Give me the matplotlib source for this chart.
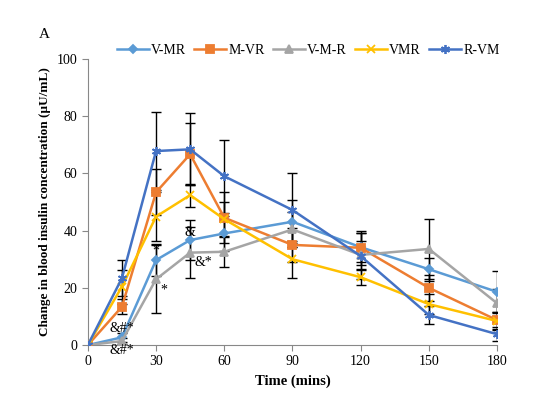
import matplotlib.pyplot as plt

plt.rcParams['font.family'] = ['Liberation Serif', 'DejaVu Serif']

time = [0, 15, 30, 45, 60, 90, 120, 150, 180]

v_mr = [0, 2.7, 29.7, 36.7, 39.0, 43.1, 34.2, 26.5, 18.6]
m_vr = [0, 13.4, 53.4, 66.7, 44.5, 35.0, 34.0, 20.0, 8.7]
v_m_r = [0, 1.4, 23.0, 32.3, 32.6, 40.4, 31.5, 33.6, 14.6]
vmr = [0, 20.4, 44.9, 52.4, 44.0, 30.0, 23.7, 14.3, 8.4]
r_vm = [0, 23.4, 67.8, 68.4, 59.0, 47.2, 31.1, 10.5, 3.8]

v_mr_err = [0, 1.5, 5.5, 7.0, 6.0, 7.5, 5.0, 4.0, 7.4]
m_vr_err = [0, 2.6, 8.0, 10.8, 9.0, 6.0, 6.0, 4.5, 3.0]
v_m_r_err = [0, 1.2, 11.8, 9.0, 5.2, 6.0, 5.0, 10.4, 5.0]
vmr_err = [0, 6.0, 8.5, 4.0, 6.0, 6.5, 2.7, 3.5, 3.0]
r_vm_err = [0, 6.3, 13.6, 12.6, 12.7, 13.0, 8.0, 3.2, 2.4]

names = ['V-MR', 'M-VR', 'V-M-R', 'VMR', 'R-VM']
series = [v_mr, m_vr, v_m_r, vmr, r_vm]
errors = [v_mr_err, m_vr_err, v_m_r_err, vmr_err, r_vm_err]
colors = ['#5B9BD5', '#ED7D31', '#A5A5A5', '#FFC000', '#4472C4']
markers = ['D', 's', '^', 'x', (6, 2, 0)]
msizes = [4, 6, 5.5, 5.5, 6.5]

fig = plt.figure(figsize=(5.56, 3.98), dpi=100)
ax = fig.add_axes([0.158, 0.133, 0.736, 0.719])

for y, e in zip(series, errors):
    ax.errorbar(time, y, yerr=e, fmt='none', ecolor='black', elinewidth=1,
                capsize=3.5, capthick=1, zorder=2)
for name, y, c, m, s in zip(names, series, colors, markers, msizes):
    ax.plot(time, y, color=c, lw=1.8, marker=m, ms=s, mew=1.3, label=name, zorder=3)

ax.text(15, 3.5, '&#*', fontsize=10, ha='center', va='bottom')
ax.text(15, -4, '&#*', fontsize=10, ha='center', va='bottom')
ax.text(30, 30.5, '*', fontsize=10, ha='center', va='bottom')
ax.text(32, 17, '*', fontsize=10, ha='left', va='bottom')
ax.text(45, 37, '&', fontsize=10, ha='center', va='bottom')
ax.text(47, 26.5, '&*', fontsize=10, ha='left', va='bottom')

ax.set_xlim(0, 180)
ax.set_ylim(0, 100)
ax.set_xticks([0, 30, 60, 90, 120, 150, 180])
ax.set_yticks([0, 20, 40, 60, 80, 100])
for sp in ['top', 'right']:
    ax.spines[sp].set_visible(False)
for sp in ['left', 'bottom']:
    ax.spines[sp].set_color('#888888')
ax.tick_params(colors='#888888', labelcolor='black', labelsize=10, length=4)
ax.set_xlabel('Time (mins)', fontsize=10.5, fontweight='bold')
ax.set_ylabel('Change in blood insulin concentration (µU/mL)', fontsize=9.5, fontweight='bold')

fig.legend(loc='center', bbox_to_anchor=(0.554, 0.873), ncol=5, frameon=False,
           fontsize=10, handlelength=2.3, handletextpad=0.15, columnspacing=0.6)
fig.text(0.07, 0.905, 'A', fontsize=11)

fig.savefig('out.png', dpi=100)
